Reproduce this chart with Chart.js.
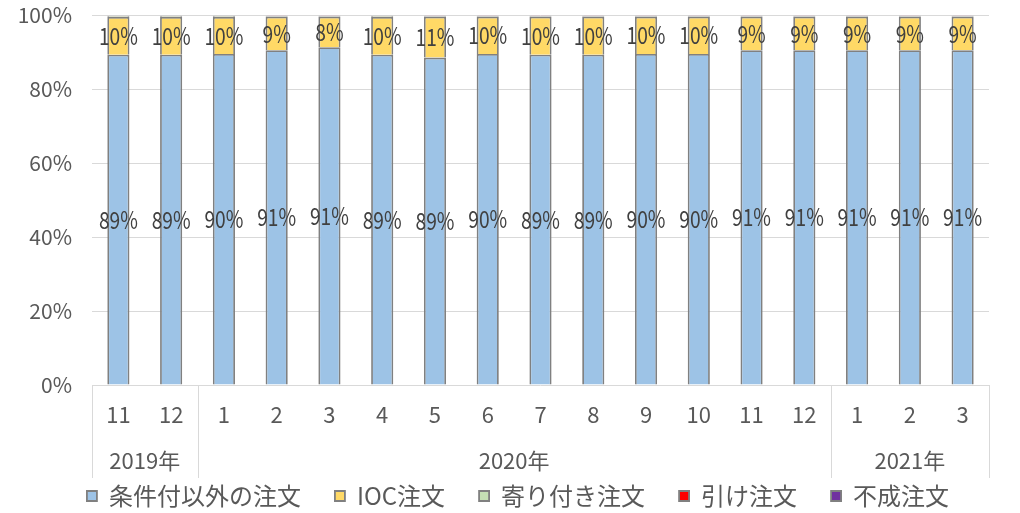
<!DOCTYPE html>
<html><head><meta charset="utf-8">
<script src="https://cdn.jsdelivr.net/npm/chart.js@4"></script>
<style>html,body{margin:0;padding:0;background:#fff}#wrap{width:1020px;height:513px}</style>
</head><body><div id="wrap"><canvas id="c" width="1020" height="513"></canvas></div>
<script>
// ---- data ----
const months = ['11','12','1','2','3','4','5','6','7','8','9','10','11','12','1','2','3'];
const years = ['2019年','2020年','2021年'];
const yearSpans = [2, 12, 3];
const seriesNames = ['条件付以外の注文','IOC注文','寄り付き注文','引け注文','不成注文'];
const regularOrders = [89.4,89.4,89.6,90.6,91.4,89.4,88.6,89.6,89.4,89.4,89.6,89.6,90.6,90.6,90.6,90.6,90.6];
const iocOrders     = [10.2,10.2,10.0,9.1,8.3,10.2,11.1,10.1,10.3,10.3,10.1,10.1,9.1,9.1,9.1,9.1,9.1];
const openingOrders = [0.2,0.2,0.2,0.15,0.15,0.2,0.15,0.15,0.15,0.15,0.15,0.15,0.15,0.15,0.15,0.15,0.15];
const closingOrders = [0.1,0.1,0.1,0.1,0.1,0.1,0.1,0.1,0.1,0.1,0.1,0.1,0.1,0.1,0.1,0.1,0.1];
const marketOnCloseOrders = [0.1,0.1,0.1,0.05,0.05,0.1,0.05,0.05,0.05,0.05,0.05,0.05,0.05,0.05,0.05,0.05,0.05];
const yTicks = [0,20,40,60,80,100];

// ---- style ----
const FONT = '"Noto Sans CJK JP", "Noto Sans", sans-serif';
const TXT = '#595959';
const colors = ['#9DC3E6','#FFD966','#C5E0B4','#FF0000','#7030A0'];
const seriesData = [regularOrders, iocOrders, openingOrders, closingOrders, marketOnCloseOrders];

const dataLabels = {
  id: 'dataLabels',
  afterDatasetsDraw(chart) {
    const ctx = chart.ctx;
    [0, 1].forEach(i => {
      const meta = chart.getDatasetMeta(i);
      meta.data.forEach((bar, j) => {
        const v = chart.data.datasets[i].data[j];
        const txt = Math.round(v) + '%';
        const cy = (bar.y + bar.base) / 2;
        ctx.save();
        ctx.translate(bar.x, cy);
        ctx.scale(0.8, 1);
        ctx.font = '24px ' + FONT;
        ctx.textAlign = 'center';
        ctx.textBaseline = 'middle';
        ctx.fillStyle = '#404040';
        ctx.fillText(txt, 0, 0);
        ctx.restore();
      });
    });
  }
};

const yearAxis = {
  id: 'yearAxis',
  afterLayout(chart) {
    const lg = chart.legend;
    if (lg) {
      lg.top = 496 - lg.options.labels.padding - 12;
      lg.bottom = lg.top + 90;
      lg.left += 23.5; lg.right += 23.5;
    }
  },
  afterDraw(chart) {
    const ctx = chart.ctx;
    const xs = chart.scales.x;
    const half = (xs.getPixelForValue(1) - xs.getPixelForValue(0)) / 2;
    const top = chart.chartArea.bottom;
    ctx.save();
    ctx.strokeStyle = '#D9D9D9';
    ctx.lineWidth = 1;
    ctx.font = '22px ' + FONT;
    ctx.fillStyle = TXT;
    ctx.textAlign = 'center';
    ctx.textBaseline = 'middle';
    let s = 0;
    const bounds = [];
    years.forEach((y, k) => {
      const e = s + yearSpans[k] - 1;
      const x0 = xs.getPixelForValue(s) - half;
      const x1 = xs.getPixelForValue(e) + half;
      bounds.push(x0);
      if (k === years.length - 1) bounds.push(x1);
      ctx.fillText(y, (x0 + x1) / 2, 461);
      s = e + 1;
    });
    bounds.forEach(b => {
      const xx = Math.round(b) + 0.5;
      ctx.beginPath(); ctx.moveTo(xx, top); ctx.lineTo(xx, 478); ctx.stroke();
    });
    ctx.restore();
  }
};

new Chart(document.getElementById('c'), {
  type: 'bar',
  data: {
    labels: months,
    datasets: seriesNames.map((n, i) => ({
      label: n,
      data: seriesData[i],
      backgroundColor: colors[i],
      borderColor: '#808080',
      borderWidth: 1.8,
      barPercentage: 0.42,
      categoryPercentage: 1.0
    }))
  },
  options: {
    responsive: false,
    animation: false,
    layout: { padding: { left: 0, right: 31, top: 15.5, bottom: 0 } },
    plugins: {
      tooltip: { enabled: false },
      legend: {
        position: 'bottom',
        maxHeight: 40,
        labels: {
          boxWidth: 10, boxHeight: 10, padding: 34,
          font: { size: 24, family: FONT }, color: TXT
        }
      }
    },
    scales: {
      x: {
        stacked: true,
        grid: { display: false, drawTicks: false },
        border: { display: false },
        ticks: { font: { size: 22, family: FONT }, color: TXT, padding: 16, maxRotation: 0, autoSkip: false },
        afterFit(s) { s.height = 88; s.paddingLeft = 0; s.paddingRight = 0; }
      },
      y: {
        stacked: true, min: 0, max: 100,
        grid: { color: '#D9D9D9', lineWidth: 1, drawTicks: false },
        border: { display: false },
        ticks: { font: { size: 21, family: FONT }, color: TXT, padding: 20, callback: v => v + '%' },
        afterBuildTicks(s) { s.ticks = yTicks.map(v => ({ value: v })); },
        afterFit(s) { s.width = 92; s.paddingTop = 0; s.paddingBottom = 0; }
      }
    }
  },
  plugins: [dataLabels, yearAxis]
});
</script>
</body></html>
